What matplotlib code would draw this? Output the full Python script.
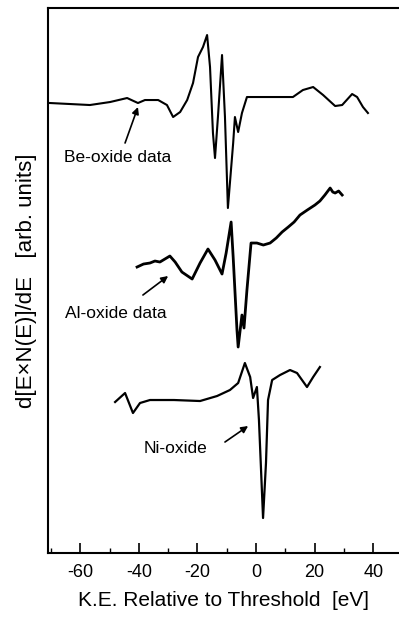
import matplotlib
matplotlib.use("Agg")
import matplotlib.pyplot as plt
from matplotlib.ticker import MultipleLocator

plt.rcParams['font.family'] = ['Liberation Sans', 'DejaVu Sans']
plt.rcParams['axes.unicode_minus'] = False

# Be-oxide spectrum (x in eV, y in arbitrary units)
be_x = [-70.3, -63.5, -56.7, -49.8, -44.0, -40.3, -37.9, -33.4, -30.4, -28.3,
        -25.9, -23.5, -21.5, -19.8, -18.1, -16.7, -15.7, -14.7, -14.0, -13.0,
        -11.6, -10.6, -9.6, -7.8, -7.2, -6.1, -4.8, -3.1, -1.0, 5.8,
        12.6, 16.0, 19.5, 22.9, 27.0, 29.4, 32.8, 34.5, 36.5, 38.2]
be_y = [450, 449, 448, 451, 455, 450, 453, 453, 448, 436,
        441, 453, 470, 496, 506, 518, 486, 420, 395, 436,
        498, 436, 345, 410, 436, 421, 440, 456, 456, 456,
        456, 463, 466, 458, 447, 448, 459, 456, 446, 440]

# Al-oxide spectrum
al_x = [-40.6, -38.4, -36.2, -34.5, -32.8, -31.1, -29.4, -27.6, -25.3, -21.8,
        -19.1, -16.4, -14.0, -11.6, -10.2, -8.5, -7.8, -6.5, -6.1, -4.8,
        -4.1, -3.1, -1.7, 0.3, 2.5, 4.8, 6.9, 8.9, 11.0, 13.0,
        15.0, 17.5, 20.1, 21.8, 23.5, 25.3, 26.2, 27.0, 28.2, 29.4]
al_y = [286, 289, 290, 292, 291, 294, 297, 291, 281, 274,
        290, 304, 293, 279, 300, 331, 296, 223, 206, 238,
        225, 263, 310, 310, 308, 310, 315, 321, 326, 331,
        338, 343, 348, 352, 358, 365, 361, 360, 362, 358]

# Ni-oxide spectrum
ni_x = [-48.1, -44.7, -42.0, -39.6, -36.2, -28.0, -19.1, -13.3, -8.9, -6.1,
        -3.8, -2.0, -1.0, 0.3, 1.0, 2.4, 3.4, 4.1, 5.5, 8.2,
        11.6, 14.0, 17.4, 19.5, 21.8]
ni_y = [151, 160, 140, 150, 153, 153, 152, 157, 163, 170,
        190, 176, 155, 166, 133, 35, 90, 153, 173, 178,
        183, 180, 166, 176, 186]

fig = plt.figure(figsize=(3.99, 6.17), dpi=100)
ax = fig.add_axes([0.1203, 0.1037, 0.8797, 0.8833])

ax.plot(be_x, be_y, color='black', lw=1.5)
ax.plot(al_x, al_y, color='black', lw=2.0)
ax.plot(ni_x, ni_y, color='black', lw=1.6)

arrow = dict(arrowstyle='-|>', color='black', lw=1.2, mutation_scale=10,
             shrinkA=0, shrinkB=0)
ax.text(-47.1, 396, 'Be-oxide data', ha='center', va='center', fontsize=12.5)
ax.annotate('', xy=(-40.3, 446), xytext=(-44.7, 410), arrowprops=arrow)
ax.text(-47.8, 240, 'Al-oxide data', ha='center', va='center', fontsize=12.5)
ax.annotate('', xy=(-30.0, 277), xytext=(-38.6, 258), arrowprops=arrow)
ax.text(-27.6, 105, 'Ni-oxide', ha='center', va='center', fontsize=12.5)
ax.annotate('', xy=(-2.7, 127), xytext=(-10.6, 111), arrowprops=arrow)

ax.set_xlim(-71, 48.8)
ax.set_ylim(0, 545)
ax.xaxis.set_major_locator(MultipleLocator(20))
ax.xaxis.set_minor_locator(MultipleLocator(10))
ax.tick_params(axis='x', which='major', direction='in', length=7, width=1.2,
               labelsize=13, pad=8)
ax.tick_params(axis='x', which='minor', direction='in', length=3.5, width=1.0)
ax.set_yticks([])
ax.spines['right'].set_visible(False)
for s in ['left', 'top', 'bottom']:
    ax.spines[s].set_linewidth(1.5)

ax.set_xlabel('K.E. Relative to Threshold  [eV]', fontsize=15, labelpad=7)
ax.set_ylabel('d[E\u00d7N(E)]/dE   [arb. units]', fontsize=16, labelpad=8)

fig.savefig('out.png', dpi=100)
